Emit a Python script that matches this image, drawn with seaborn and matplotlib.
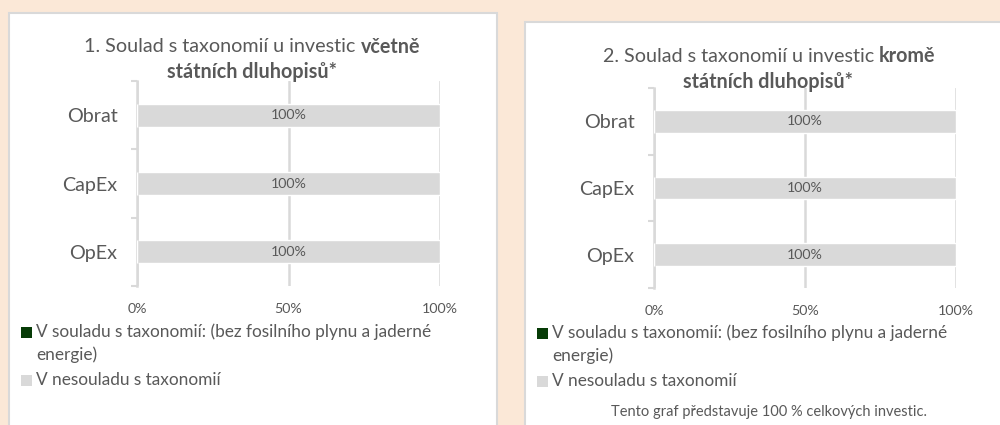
import numpy as np
import pandas as pd
import matplotlib
matplotlib.use("Agg")
import matplotlib.pyplot as plt
from matplotlib.patches import Rectangle
import seaborn as sns

# ---------------- data ----------------
categories = ["Obrat", "CapEx", "OpEx"]
aligned_incl = [0, 0, 0]
not_aligned_incl = [100, 100, 100]
aligned_excl = [0, 0, 0]
not_aligned_excl = [100, 100, 100]
series_names = ["V souladu s taxonomií: (bez fosilního plynu a jaderné\nenergie)",
                "V nesouladu s taxonomií"]
x_ticks = [0, 50, 100]
x_tick_labels = ["0%", "50%", "100%"]
title1 = [("1. Soulad s taxonomií u investic", "normal"), ("včetně", "bold")]
title2 = [("2. Soulad s taxonomií u investic", "normal"), ("kromě", "bold")]
title_line2 = [("státních dluhopisů*", "bold")]
footnote = "Tento graf představuje 100 % celkových investic."

# ---------------- style ----------------
BG = "#FBE8D7"
GRID = "#D9D9D9"
BAR = "#D9D9D9"
GREEN = "#063B06"
TEXT = "#595959"
series_colors = [GREEN, BAR]

sns.set_theme(style="white")
plt.rcParams["font.family"] = ["Lato", "DejaVu Sans"]

W, H = 1000, 425
fig = plt.figure(figsize=(10, 4.25), dpi=100, facecolor=BG)


def fx(px):
    return px / W


def fy(py):
    return 1 - py / H


# white panels
for (x0, y0, x1, y1) in [(9, 13, 497, 440), (525, 22, 1010, 440)]:
    fig.patches.append(Rectangle((fx(x0), fy(y1)), (x1 - x0) / W, (y1 - y0) / H,
                                 transform=fig.transFigure, facecolor="white",
                                 edgecolor=GRID, lw=1.5, zorder=-5))

axL = fig.add_axes([fx(137), fy(286), 303 / W, 205 / H])
axR = fig.add_axes([fx(654), fy(288), 302 / W, 200 / H])


def draw(ax, aligned, not_aligned):
    total = [a + b for a, b in zip(aligned, not_aligned)]
    df = pd.DataFrame({"cat": categories, "total": total,
                       "aligned": aligned, "not_aligned": not_aligned})
    sns.barplot(data=df, x="total", y="cat", orient="h", color=BAR, saturation=1,
                width=0.34, errorbar=None, ax=ax, zorder=2)
    cont = ax.containers[-1]
    ax.bar_label(cont, labels=[f"{v:g}%" for v in not_aligned], label_type="center",
                 fontsize=10.2, color=TEXT)
    sns.barplot(data=df, x="aligned", y="cat", orient="h", color=GREEN, saturation=1,
                width=0.34, errorbar=None, ax=ax, zorder=3)
    ax.set_facecolor("none")
    ax.set_xlim(0, 100)
    ax.set_ylim(2.5, -0.5)
    ax.set_xticks(x_ticks, x_tick_labels)
    ax.set_xlabel("")
    ax.set_ylabel("")
    ax.grid(axis="x", color=GRID, lw=1.8, zorder=0)
    ax.grid(axis="y", visible=False)
    ax.set_axisbelow(True)
    for s in ["top", "right", "bottom"]:
        ax.spines[s].set_visible(False)
    ax.spines["left"].set_color(GRID)
    ax.spines["left"].set_linewidth(1.8)
    ax.tick_params(axis="x", length=0, pad=12, labelsize=10.3, labelcolor=TEXT)
    ax.tick_params(axis="y", which="major", length=0, pad=14, labelsize=14.2, labelcolor=TEXT)
    ax.set_yticks([-0.5, 0.5, 1.5, 2.5], minor=True)
    ax.tick_params(axis="y", which="minor", length=4, width=1.5, color=GRID, left=True)


draw(axL, aligned_incl, not_aligned_incl)
draw(axR, aligned_excl, not_aligned_excl)

renderer = fig.canvas.get_renderer()


def centered_line(cx, cy, parts, size):
    texts, widths = [], []
    for s, w in parts:
        t = fig.text(0, fy(cy), s, fontsize=size, fontweight=w, color=TEXT,
                     ha="left", va="center")
        widths.append(t.get_window_extent(renderer).width)
        texts.append(t)
    a = fig.text(0, 0, "a a", fontsize=size)
    b = fig.text(0, 0, "aa", fontsize=size)
    space = a.get_window_extent(renderer).width - b.get_window_extent(renderer).width
    a.remove()
    b.remove()
    total = sum(widths) + space * (len(parts) - 1)
    x = cx - total / 2
    for t, w in zip(texts, widths):
        t.set_x(x / W)
        x += w + space


TS = 14.2
centered_line(252, 47, title1, TS)
centered_line(252, 72, title_line2, TS)
centered_line(769, 56, title2, TS)
centered_line(768, 82, title_line2, TS)

# legend (handle aligned with the first line of each label)
LS = 12.4
for sq_x, y_first in [(21, 332), (537, 333)]:
    y = y_first
    for name, col in zip(series_names, series_colors):
        fig.patches.append(Rectangle((fx(sq_x), fy(y + 5.5)), 11 / W, 11 / H,
                                     transform=fig.transFigure, facecolor=col,
                                     edgecolor="none", zorder=2))
        for i, line in enumerate(name.split("\n")):
            fig.text(fx(sq_x + 15), fy(y + 23 * i), line, ha="left", va="center",
                     fontsize=LS, color=TEXT)
        y += 23 * (len(name.split("\n")) - 1) + 25

fig.text(fx(769), fy(412), footnote, ha="center", va="center", fontsize=10.5, color=TEXT)

fig.savefig("out.png", dpi=100, facecolor=BG)
